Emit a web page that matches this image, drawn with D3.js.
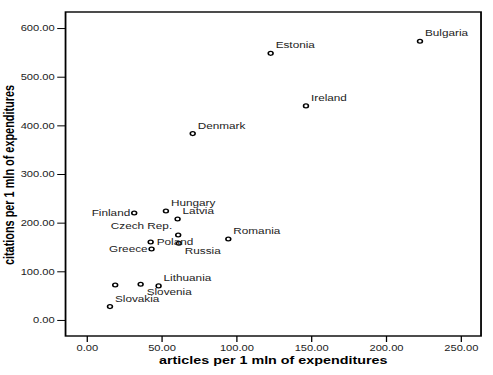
<!DOCTYPE html>
<html>
<head>
<meta charset="utf-8">
<script src="https://cdn.jsdelivr.net/npm/d3@7"></script>
<style>
  body { margin: 0; background: #fff; }
  text { font-family: "Liberation Sans", Arial, sans-serif; }
</style>
</head>
<body>
<div id="chart"></div>
<script>
/* Data */
const countries = ["Bulgaria", "Estonia", "Ireland", "Denmark", "Hungary", "Finland", "Latvia",
  "Czech Rep.", "Romania", "Poland", "Russia", "Greece", "Lithuania", "Slovenia", "", "Slovakia"]
const articles = [222.8, 123.0, 146.6, 70.9, 53.0, 31.8, 60.8, 61.2, 94.7, 42.8, 61.6, 43.4, 48.1, 36.1, 19.1, 15.6]
const citations = [573.0, 548.0, 440.0, 383.0, 224.0, 220.0, 207.5, 174.6, 166.4, 160.3, 157.6, 146.0, 70.0, 73.3, 72.0, 27.4]
const xTicks = [0, 50, 100, 150, 200, 250]
const yTicks = [0, 100, 200, 300, 400, 500, 600]
const X_TITLE = "articles per 1 mln of expenditures"
const Y_TITLE = "citations per 1 mln of expenditures"

/* Layout: the original picture is stretched sideways, so draw in a narrower space and stretch it */
const WIDTH = 493
const HEIGHT = 375
const STRETCH = 1.28
const FRAME = {left: 51.2, right: 375.8, top: 12, bottom: 336}

/* where a label sits relative to its point, default is up-right */
const LABEL_POS = {
  "ne": {dx: 3.9, dy: -5, anchor: "start"},
  "e": {dx: 4.7, dy: 3, anchor: "start"},
  "w": {dx: -3.1, dy: 3, anchor: "end"},
  "se": {dx: 4.7, dy: 10.5, anchor: "start"},
  "nw": {dx: -4.7, dy: -5.7, anchor: "end"}
}
const PLACEMENT = {"Finland": "w", "Greece": "w", "Poland": "e", "Russia": "se", "Slovenia": "se", "Czech Rep.": "nw"}

const svg = d3.select("#chart")
              .append("svg")
              .attr("width", WIDTH)
              .attr("height", HEIGHT);
const g = svg.append("g").attr("transform", "scale(" + STRETCH + ",1)");

const xScale = d3.scaleLinear().domain([-14.1, 263.6]).range([FRAME.left, FRAME.right]);
const yScale = d3.scaleLinear().domain([-33, 633]).range([FRAME.bottom, FRAME.top]);

const xAxis = d3.axisBottom(xScale).tickValues(xTicks).tickFormat(d3.format(".2f")).tickSize(6).tickPadding(3);
const yAxis = d3.axisLeft(yScale).tickValues(yTicks).tickFormat(d3.format(".2f")).tickSize(6.5).tickPadding(2);

const gx = g.append("g").attr("transform", "translate(0," + FRAME.bottom + ")").call(xAxis);
const gy = g.append("g").attr("transform", "translate(" + FRAME.left + ",0)").call(yAxis);
[gx, gy].forEach((a) => {
  a.select(".domain").remove();
  a.selectAll(".tick line").attr("stroke", "#000").attr("stroke-width", 1);
  a.selectAll(".tick text").attr("fill", "#222").style("font-size", "8.7px").style("font-family", "Liberation Sans, Arial, sans-serif");
});

/* plot frame */
g.append("rect")
 .attr("x", FRAME.left)
 .attr("y", FRAME.top)
 .attr("width", FRAME.right - FRAME.left)
 .attr("height", FRAME.bottom - FRAME.top)
 .attr("fill", "none")
 .attr("stroke", "#000")
 .attr("stroke-width", 1.4);

/* points */
const points = countries.map((c, i) => ({name: c, x: articles[i], y: citations[i]}));
g.selectAll("circle.pt")
 .data(points)
 .enter()
 .append("circle")
 .attr("class", "pt")
 .attr("cx", (d) => xScale(d.x))
 .attr("cy", (d) => yScale(d.y))
 .attr("r", 1.9)
 .attr("fill", "none")
 .attr("stroke", "#000")
 .attr("stroke-width", 1.25);

g.selectAll("text.lbl")
 .data(points.filter((d) => d.name !== ""))
 .enter()
 .append("text")
 .attr("class", "lbl")
 .attr("x", (d) => xScale(d.x) + LABEL_POS[PLACEMENT[d.name] || "ne"].dx)
 .attr("y", (d) => yScale(d.y) + LABEL_POS[PLACEMENT[d.name] || "ne"].dy)
 .attr("text-anchor", (d) => LABEL_POS[PLACEMENT[d.name] || "ne"].anchor)
 .attr("fill", "#222")
 .style("font-size", "9.2px")
 .text((d) => d.name);

/* axis titles */
g.append("text")
 .attr("x", (FRAME.left + FRAME.right) / 2)
 .attr("y", 364.5)
 .attr("text-anchor", "middle")
 .style("font-size", "11.2px")
 .style("font-weight", "bold")
 .text(X_TITLE);
g.append("text")
 .attr("transform", "translate(11.3," + ((FRAME.top + FRAME.bottom) / 2 + 1) + ") rotate(-90)")
 .attr("text-anchor", "middle")
 .style("font-size", "10.9px")
 .style("font-weight", "bold")
 .text(Y_TITLE);
</script>
</body>
</html>
